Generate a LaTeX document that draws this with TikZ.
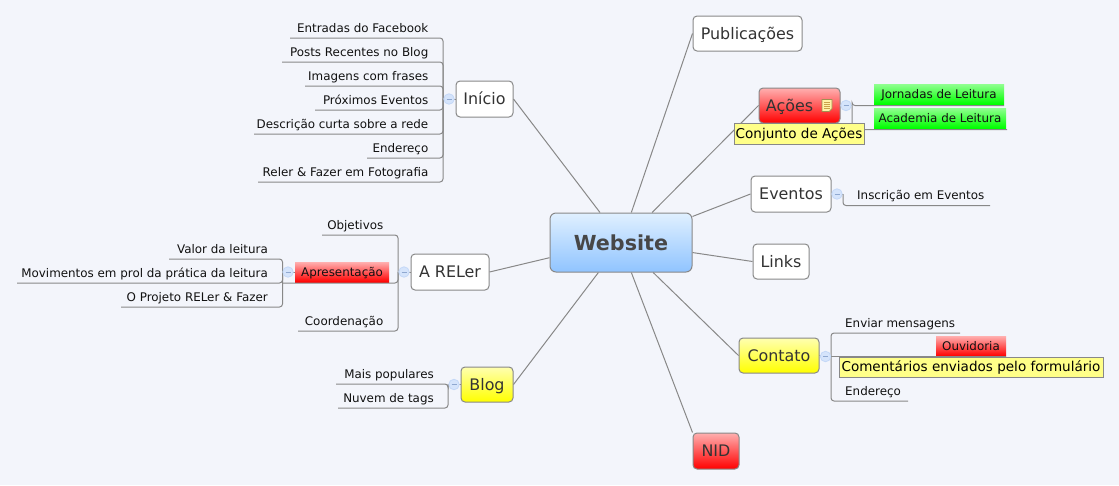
\documentclass[tikz,border=0pt]{standalone}
\usepackage{fontspec}
\setmainfont{DejaVu Sans}
\definecolor{bgc}{HTML}{F3F5FB}
\definecolor{linec}{HTML}{888888}
\definecolor{darktext}{HTML}{333333}
\definecolor{subtext}{HTML}{111111}
\definecolor{notey}{HTML}{FFFF88}
\definecolor{redtop}{HTML}{FFB0B0}
\definecolor{greentop}{HTML}{90FF90}
\definecolor{yellowtop}{HTML}{FFFFB0}
\definecolor{bluetop}{HTML}{E0F0FF}
\definecolor{bluebot}{HTML}{90C4FF}
\definecolor{circfill}{HTML}{D5E4FB}
\definecolor{circline}{HTML}{C4D8F7}
\definecolor{circminus}{HTML}{8FA8D0}
\definecolor{iconfill}{HTML}{FFF2A8}
\definecolor{iconline}{HTML}{A09050}
\definecolor{iconrule}{HTML}{C9A24A}
\tikzset{
  conn/.style={draw=linec,line width=1pt},
  branch/.style={draw=linec,line width=1pt,rounded corners=3pt},
  topic/.style={draw=linec,line width=1pt,rounded corners=4pt,fill=white,font=\fontsize{15.9}{20}\selectfont,text=darktext,inner sep=0pt,text height=14pt,text depth=3pt},
  redtopic/.style={topic,top color=redtop,bottom color=red},
  yellowtopic/.style={topic,top color=yellowtop,bottom color=yellow},
  subt/.style={font=\fontsize{11.9}{16}\selectfont,text=subtext,inner sep=0pt},
  band/.style={inner sep=0pt,font=\fontsize{11.9}{16}\selectfont,text=subtext,text height=11pt,text depth=3pt},
  redband/.style={band,top color=redtop,bottom color=red},
  greenband/.style={band,top color=greentop,bottom color=green},
  notebox/.style={draw=linec,line width=1pt,fill=notey,inner sep=0pt,text=black,text height=12pt,text depth=3pt,font=\fontsize{13.55}{17}\selectfont},
  collapse/.style={circle,draw=circline,fill=circfill,line width=0.8pt,minimum size=10.5pt,inner sep=0pt,
    path picture={\draw[circminus,line width=0.7pt] ([xshift=-2.5pt]path picture bounding box.center) -- ([xshift=2.5pt]path picture bounding box.center);}}
}
\newcommand{\subL}[5]{% name, text right x, line y, line left x, text
  \node[subt,anchor=base east] (#1) at (#2,#3-6) {#5};
  \coordinate (#1-l) at (#4,#3);}
\newcommand{\subR}[5]{% name, text left x, line y, line right x, text
  \node[subt,anchor=base west] (#1) at (#2,#3-6) {#5};
  \coordinate (#1-l) at (#4,#3);}
\begin{document}
\begin{tikzpicture}[x=1pt,y=-1pt]
\useasboundingbox[fill=bgc] (0,0) rectangle (1119,485);
% central and main topics
\node[topic,minimum width=142pt,minimum height=59pt,rounded corners=6pt,top color=bluetop,bottom color=bluebot,font=\bfseries\fontsize{20.7}{28}\selectfont,text=darktext!90,text height=18pt,text depth=3pt] (web) at (621,242.5) {Website};
\node[topic,minimum width=109pt,minimum height=35pt] (pub) at (747.5,33.5) {Publicações};
\node[redtopic,minimum width=81pt,minimum height=35pt] (aco) at (799.5,105.5) {Ações\kern20pt};
\node[topic,minimum width=80pt,minimum height=36pt] (eve) at (791,194) {Eventos};
\node[topic,minimum width=56pt,minimum height=35pt] (lin) at (781,261.5) {Links};
\node[yellowtopic,minimum width=80pt,minimum height=35pt] (con) at (779,355.5) {Contato};
\node[redtopic,minimum width=46pt,minimum height=36pt] (nid) at (716,451) {NID};
\node[yellowtopic,minimum width=52pt,minimum height=35pt] (blo) at (487,384.5) {Blog};
\node[topic,minimum width=78pt,minimum height=36pt] (rel) at (450,272) {A RELer};
\node[topic,minimum width=57pt,minimum height=36pt] (ini) at (484.5,99) {Início};
% main connectors
\draw[conn] (web.125) -- (ini.east);
\draw[conn] (web.71) -- (pub.west);
\draw[conn] (web.44.5) -- (aco.west);
\draw[conn] (web.20.5) -- (eve.west);
\draw[conn] (web.-8.4) -- (lin.west);
\draw[conn] (web.-43.6) -- (con.west);
\draw[conn] (web.-71) -- (nid.north west);
\draw[conn] (web.233.3) -- (blo.east);
\draw[conn] (web.192.3) -- (rel.east);
% Inicio
\coordinate (ji) at (443,99);
\subL{i1}{428.5}{38}{290}{Entradas do Facebook}
\subL{i2}{428.5}{62}{282}{Posts Recentes no Blog}
\subL{i3}{428.5}{86}{305}{Imagens com frases}
\subL{i4}{428.5}{110}{315}{Próximos Eventos}
\subL{i5}{428.5}{134}{254}{Descrição curta sobre a rede}
\subL{i6}{428.5}{158}{367}{Endereço}
\subL{i7}{428.5}{182}{258}{Reler \& Fazer em Fotografia}
\draw[conn] (ini.west) -- (ji);
\foreach \n in {i1,i2,i3,i4,i5,i6,i7} \draw[branch] (ji) |- (\n-l);
\node[collapse] (ci) at (449,99) {};
% A RELer
\coordinate (jr) at (398,272);
\coordinate (jp) at (282.5,272);
\subL{r1}{383.5}{235}{322}{Objetivos}
\subL{r2}{383.5}{331}{298}{Coordenação}
\subL{p1}{268}{259}{169}{Valor da leitura}
\subL{p2}{268}{283}{17}{Movimentos em prol da prática da leitura}
\subL{p3}{268}{307}{121}{O Projeto RELer \& Fazer}
\node[redband,minimum width=94pt,minimum height=20pt] (apr) at (342,272) {Apresentação};
\coordinate (apr-l) at (282.5,283);
\draw[conn] (rel.west) -- (jr);
\foreach \n in {r1,r2,apr} \draw[branch] (jr) |- (\n-l);
\draw[conn] (apr.west) -- (jp);
\foreach \n in {p1,p2,p3} \draw[branch] (jp) |- (\n-l);
\node[collapse] (cr) at (404,272) {};
\node[collapse] (cp) at (288,272) {};
% Blog
\coordinate (jb) at (448,384.5);
\subL{b1}{434}{384}{336}{Mais populares}
\subL{b2}{434}{408}{338}{Nuvem de tags}
\draw[conn] (blo.west) -- (jb);
\foreach \n in {b1,b2} \draw[branch] (jb) |- (\n-l);
\node[collapse] (cb) at (454,384.5) {};
% Acoes
\coordinate (ja) at (852,105.5);
\node[greenband,minimum width=130pt,minimum height=20pt] (a1) at (939,94) {Jornadas de Leitura};
\node[greenband,minimum width=132pt,minimum height=20pt] (a2) at (940,118) {Academia de Leitura};
\coordinate (a1-l) at (1004,105.5);
\coordinate (a2-l) at (1007,129.5);
\draw[conn] (aco.east) -- (ja);
\foreach \n in {a1,a2} \draw[branch] (ja) |- (\n-l);
\node[collapse] (ca) at (846,105.5) {};
\node[notebox,minimum width=130pt,minimum height=21pt] (ano) at (799,133.5) {Conjunto de Ações};
% note icon
\path[draw=iconline,fill=iconfill,line width=0.7pt] (822,99.5) -- (832,99.5) -- (832,108.5) -- (829,111.5) -- (822,111.5) -- cycle;
\foreach \yy in {102,104,106,108} \draw[iconrule,line width=0.7pt] (824,\yy) -- (830,\yy);
% Eventos
\coordinate (je) at (843,194);
\subR{e1}{857}{205.5}{990}{Inscrição em Eventos}
\draw[conn] (eve.east) -- (je);
\draw[branch] (je) |- (e1-l);
\node[collapse] (ce) at (837,194) {};
% Contato
\coordinate (jc) at (831,356.5);
\subR{c1}{845}{333}{960}{Enviar mensagens}
\subR{c3}{845}{401}{908}{Endereço}
\node[redband,minimum width=70pt,minimum height=20pt] (c2) at (971,346) {Ouvidoria};
\coordinate (c2-l) at (1006,356.5);
\draw[conn] (con.east) -- (jc);
\foreach \n in {c1,c3} \draw[branch] (jc) |- (\n-l);
\draw[conn] (jc) -- (c2-l);
\node[collapse] (cc) at (825.5,356.5) {};
\node[notebox,minimum width=264pt,minimum height=20pt] (cno) at (971,367) {Comentários enviados pelo formulário};
\end{tikzpicture}
\end{document}
